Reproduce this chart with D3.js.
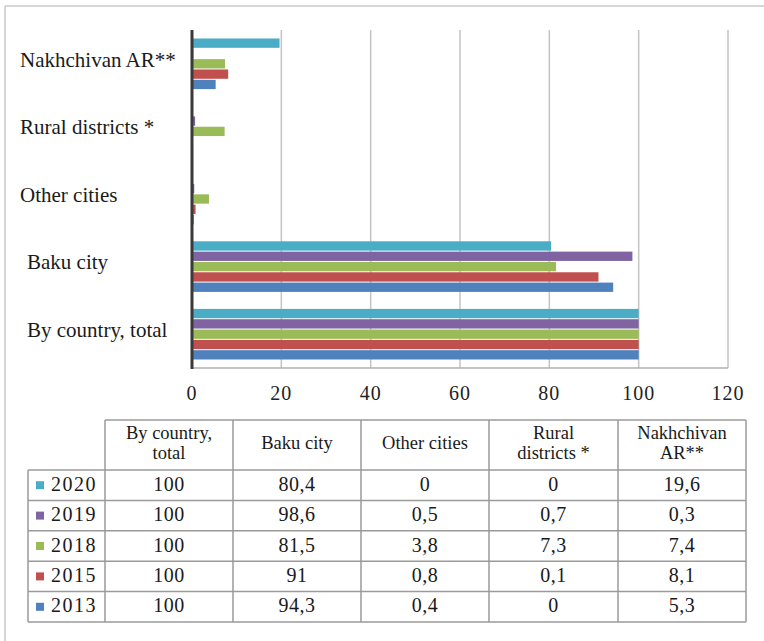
<!DOCTYPE html>
<html>
<head>
<meta charset="utf-8">
<script src="https://cdn.jsdelivr.net/npm/d3@7"></script>
<style>
  html, body { margin: 0; padding: 0; background: #fff; }
  svg { display: block; }
</style>
</head>
<body>
<div id="chart"></div>
<script>
// ---- data ----
const categories = ["By country, total", "Baku city", "Other cities", "Rural districts *", "Nakhchivan AR**"];
const headerLines = [["By country,", "total"], ["Baku city"], ["Other cities"], ["Rural", "districts *"], ["Nakhchivan", "AR**"]];
const years = ["2020", "2019", "2018", "2015", "2013"];
const v2020 = [100, 80.4, 0, 0, 19.6];
const v2019 = [100, 98.6, 0.5, 0.7, 0.3];
const v2018 = [100, 81.5, 3.8, 7.3, 7.4];
const v2015 = [100, 91, 0.8, 0.1, 8.1];
const v2013 = [100, 94.3, 0.4, 0, 5.3];
const seriesValues = [v2020, v2019, v2018, v2015, v2013];
const colors = ["#4bacc6", "#8064a2", "#9bbb59", "#c0504d", "#4f81bd"];
const xTicks = [0, 20, 40, 60, 80, 100, 120];

// ---- layout ----
const FONT = "'Liberation Serif', 'Times New Roman', Times, 'DejaVu Serif', serif";
const W = 764, H = 641;
const svg = d3.select("#chart").append("svg").attr("width", W).attr("height", H)
  .attr("font-family", FONT);

// outer frame (top and left edges visible)
svg.append("line").attr("x1", 5).attr("x2", W).attr("y1", 6).attr("y2", 6)
  .attr("stroke", "#c8c8c8").attr("stroke-width", 1.5);
svg.append("line").attr("x1", 5).attr("x2", 5).attr("y1", 6).attr("y2", H)
  .attr("stroke", "#c8c8c8").attr("stroke-width", 1.5);

const plot = { left: 192, right: 728, top: 30, bottom: 368 };
const x = d3.scaleLinear().domain([0, 120]).range([plot.left, plot.right]);
const yCats = categories.slice().reverse();
const y = d3.scaleBand().domain(yCats).range([plot.top, plot.bottom]).padding(0);
const yInner = d3.scaleBand().domain(years).range([8, y.bandwidth() - 8]).padding(0);

// gridlines
svg.append("g").selectAll("line").data(xTicks.filter(t => t > 0)).join("line")
  .attr("x1", d => x(d)).attr("x2", d => x(d))
  .attr("y1", plot.top).attr("y2", plot.bottom)
  .attr("stroke", "#c4c4c4").attr("stroke-width", 1.5);
svg.append("line").attr("x1", plot.left).attr("x2", plot.right)
  .attr("y1", plot.bottom).attr("y2", plot.bottom)
  .attr("stroke", "#b0b0b0").attr("stroke-width", 1.5);

// bars
const barData = [];
years.forEach((yr, si) => {
  categories.forEach((cat, ci) => {
    barData.push({ year: yr, cat, value: seriesValues[si][ci], color: colors[si] });
  });
});
svg.append("g").selectAll("rect").data(barData).join("rect")
  .attr("x", x(0))
  .attr("y", d => y(d.cat) + yInner(d.year) + 0.5)
  .attr("width", d => x(d.value) - x(0))
  .attr("height", yInner.bandwidth() - 1)
  .attr("fill", d => d.color);

// axis line at 0
svg.append("line").attr("x1", x(0)).attr("x2", x(0))
  .attr("y1", plot.top).attr("y2", plot.bottom + 1)
  .attr("stroke", "#3a3a3a").attr("stroke-width", 3);

// x tick labels
svg.append("g").selectAll("text").data(xTicks).join("text")
  .attr("x", d => x(d)).attr("y", 400)
  .attr("text-anchor", "middle")
  .attr("font-family", FONT)
  .attr("fill", "#222")
  .style("font-size", "20px")
  .style("letter-spacing", "1px")
  .text(d => d);

// category labels
const labelX = { "Nakhchivan AR**": 20, "Rural districts *": 20, "Other cities": 20, "Baku city": 27, "By country, total": 27 };
svg.append("g").selectAll("text").data(yCats).join("text")
  .attr("x", d => labelX[d])
  .attr("y", d => y(d) + y.bandwidth() / 2 - 2)
  .attr("dominant-baseline", "middle")
  .attr("font-family", FONT)
  .attr("fill", "#1a1a1a")
  .style("font-size", "21px")
  .text(d => d);

// ---- data table ----
const colEdges = [28, 105, 233, 361, 489, 618, 746];
const headTop = 420, headBottom = 470;
const rowH = (622 - headBottom) / years.length;
const tbl = svg.append("g");
const lineColor = "#9a9a9a";
const fmt = v => String(v).replace(".", ",");

tbl.append("line").attr("x1", colEdges[1]).attr("x2", colEdges[6]).attr("y1", headTop).attr("y2", headTop)
  .attr("stroke", lineColor).attr("stroke-width", 1.5);
d3.range(years.length + 1).forEach(i => {
  const yy = headBottom + i * rowH;
  tbl.append("line").attr("x1", colEdges[0]).attr("x2", colEdges[6]).attr("y1", yy).attr("y2", yy)
    .attr("stroke", lineColor).attr("stroke-width", 1.5);
});
colEdges.forEach((cx, i) => {
  tbl.append("line").attr("x1", cx).attr("x2", cx)
    .attr("y1", i === 0 ? headBottom : headTop).attr("y2", headBottom + years.length * rowH)
    .attr("stroke", lineColor).attr("stroke-width", 1.5);
});

// header texts
headerLines.forEach((lines, ci) => {
  const cx = (colEdges[ci + 1] + colEdges[ci + 2]) / 2;
  const cy = (headTop + headBottom) / 2;
  lines.forEach((ln, li) => {
    tbl.append("text")
      .attr("x", cx)
      .attr("y", cy + (li - (lines.length - 1) / 2) * 20)
      .attr("text-anchor", "middle")
      .attr("dominant-baseline", "middle")
      .attr("font-family", FONT)
      .attr("fill", "#1a1a1a")
      .style("font-size", "18.5px")
      .text(ln);
  });
});

// rows
years.forEach((yr, si) => {
  const cy = headBottom + si * rowH + rowH / 2;
  tbl.append("rect").attr("x", 36).attr("y", cy - 4).attr("width", 8).attr("height", 8).attr("fill", colors[si]);
  tbl.append("text").attr("x", 51).attr("y", cy + 1)
    .attr("dominant-baseline", "middle")
    .attr("font-family", FONT)
    .attr("fill", "#1a1a1a")
    .style("font-size", "20px").style("letter-spacing", "1.5px")
    .text(yr);
  categories.forEach((cat, ci) => {
    tbl.append("text")
      .attr("x", (colEdges[ci + 1] + colEdges[ci + 2]) / 2)
      .attr("y", cy + 1)
      .attr("text-anchor", "middle")
      .attr("dominant-baseline", "middle")
      .attr("font-family", FONT)
      .attr("fill", "#1a1a1a")
      .style("font-size", "20px").style("letter-spacing", "0.5px")
      .text(fmt(seriesValues[si][ci]));
  });
});
</script>
</body>
</html>
